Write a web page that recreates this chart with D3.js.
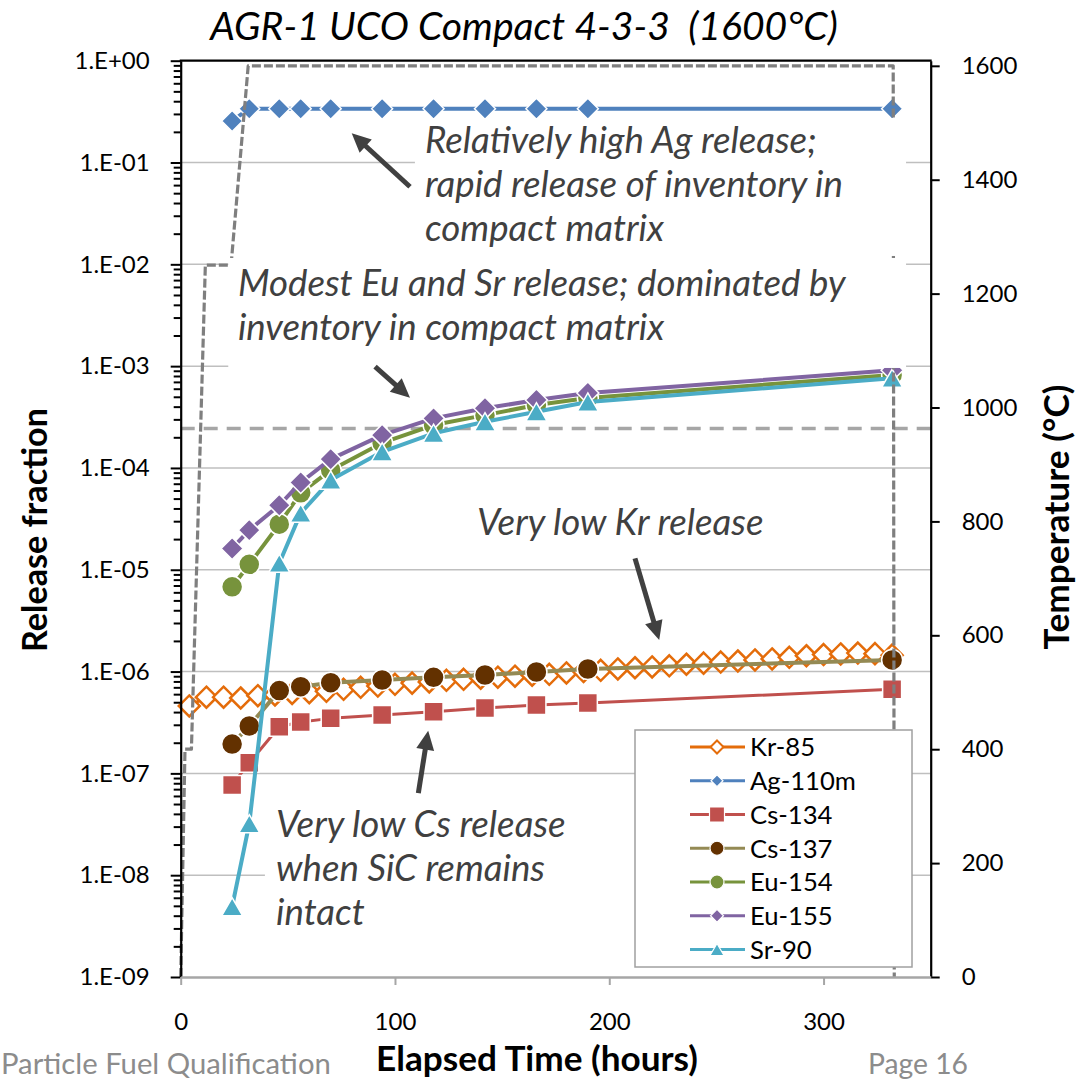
<!DOCTYPE html>
<html>
<head>
<meta charset="utf-8">
<title>AGR-1 UCO Compact 4-3-3 (1600°C)</title>
<script src="https://d3js.org/d3.v7.min.js"></script>
<style>
  body { margin: 0; background: #fff; }
  svg text { font-family: Lato, "Open Sans", sans-serif; }
</style>
</head>
<body>
<svg id="chart" width="1088" height="1082"></svg>
<script>
// measurement times (hours) shared by the gamma-counted isotopes
const hours = [24, 32, 46, 56, 70, 94, 118, 142, 166, 190, 332];
const ag110m = [0.256, 0.338, 0.338, 0.338, 0.338, 0.338, 0.338, 0.338, 0.338, 0.338, 0.338];
const cs134 = [7.7e-8, 1.27e-7, 2.87e-7, 3.2e-7, 3.47e-7, 3.74e-7, 4.03e-7, 4.38e-7, 4.7e-7, 4.9e-7, 6.7e-7];
const cs137 = [1.94e-7, 2.92e-7, 6.5e-7, 7.1e-7, 7.77e-7, 8.26e-7, 8.78e-7, 9.25e-7, 9.9e-7, 1.06e-6, 1.3e-6];
const eu154 = [6.8e-6, 1.13e-5, 2.8e-5, 5.7e-5, 9.5e-5, 1.76e-4, 2.64e-4, 3.3e-4, 4.15e-4, 4.86e-4, 8.2e-4];
const eu155 = [1.62e-5, 2.45e-5, 4.3e-5, 7.2e-5, 1.22e-4, 2.1e-4, 3.07e-4, 3.85e-4, 4.65e-4, 5.44e-4, 9.1e-4];
const sr90 = [4.9e-9, 3.2e-8, 1.16e-5, 3.6e-5, 7.6e-5, 1.44e-4, 2.19e-4, 2.84e-4, 3.56e-4, 4.44e-4, 7.6e-4];

// Kr-85 is measured much more often
const krHours = [4, 12, 20, 28, 36, 44, 52, 60, 68, 76, 84, 92, 100, 108, 116, 124, 132, 140, 148, 156, 164,
  172, 180, 188, 196, 204, 212, 220, 228, 236, 244, 252, 260, 268, 276, 284, 292, 300, 308, 316, 324, 332];
const kr85 = [4.6e-7, 5.6e-7, 5.6e-7, 5.5e-7, 5.8e-7, 5.9e-7, 6.1e-7, 6.2e-7, 6.4e-7, 6.7e-7, 7.0e-7,
  7.2e-7, 7.5e-7, 7.7e-7, 7.9e-7, 8.2e-7, 8.4e-7, 8.6e-7, 8.8e-7, 9.0e-7, 9.2e-7, 9.4e-7, 9.7e-7,
  1.0e-6, 1.03e-6, 1.06e-6, 1.09e-6, 1.11e-6, 1.14e-6, 1.18e-6, 1.21e-6, 1.24e-6, 1.27e-6, 1.3e-6,
  1.33e-6, 1.38e-6, 1.43e-6, 1.47e-6, 1.49e-6, 1.52e-6, 1.5e-6, 1.45e-6];

// furnace temperature (right axis)
const tempHours = [0, 2, 5, 11.5, 23.5, 31.5, 332.5, 333];
const tempValues = [0, 400, 400, 1250, 1250, 1600, 1600, 0];

// one-particle equivalent release
const oneParticle = 2.44e-4;

const yTicks = [1e-9, 1e-8, 1e-7, 1e-6, 1e-5, 1e-4, 1e-3, 1e-2, 1e-1, 1];
const tempTicks = [0, 200, 400, 600, 800, 1000, 1200, 1400, 1600];
const xTicks = [0, 100, 200, 300];

const svg = d3.select("#chart");
const L = 180.7, R = 930.7, T = 60.7, B = 977;

const x = d3.scaleLinear().domain([0, 350]).range([L, R]);
const y = d3.scaleLog().domain([1e-9, 1]).range([B, T]);
const yT = d3.scaleLinear().domain([0, 1609]).range([B, T]);

const fmt = d => {
  const e = Math.round(Math.log10(d));
  return "1.E" + (e < 0 ? "-" : "+") + String(Math.abs(e)).padStart(2, "0");
};

function fit(sel, width) {
  const w = sel.node().getComputedTextLength();
  const fs = parseFloat(sel.attr("font-size"));
  const nfs = fs * width / w;
  sel.attr("font-size", nfs);
  return nfs;
}

// gridlines
svg.append("g").selectAll("line").data(yTicks.slice(1, -1)).join("line")
  .attr("x1", L).attr("x2", R).attr("y1", d => y(d)).attr("y2", d => y(d))
  .attr("stroke", "#BFBFBF").attr("stroke-width", 1.5);

// one particle reference line
svg.append("line").attr("x1", L).attr("x2", R)
  .attr("y1", y(oneParticle)).attr("y2", y(oneParticle))
  .attr("stroke", "#A6A6A6").attr("stroke-width", 3.5).attr("stroke-dasharray", "14,9");

// marker shapes
const shapes = {
  diamond: r => `M0,${-r}L${r},0L0,${r}L${-r},0Z`,
  square: r => `M${-r},${-r}h${2 * r}v${2 * r}h${-2 * r}Z`,
  circle: r => `M${r},0A${r},${r} 0 1,1 ${-r},0A${r},${r} 0 1,1 ${r},0Z`,
  triangle: r => { const h = r * 0.866; return `M0,${-h}L${r},${h}L${-r},${h}Z`; }
};

const series = [
  { name: "Kr-85", h: krHours, v: kr85, line: "#E46C0A", fill: "#fff", stroke: "#E46C0A", sw: 2.5, shape: "diamond", r: 10.5, lr: 6.5, lw: 3 },
  { name: "Ag-110m", h: hours, v: ag110m, line: "#4F81BD", fill: "#4F81BD", stroke: "#fff", sw: 1.5, shape: "diamond", r: 10.5, lr: 6, lw: 4 },
  { name: "Cs-134", h: hours, v: cs134, line: "#C0504D", fill: "#C0504D", stroke: "#fff", sw: 1.5, shape: "square", r: 9.5, lr: 7.5, lw: 3 },
  { name: "Cs-137", h: hours, v: cs137, line: "#948A54", fill: "#633100", stroke: "#fff", sw: 1.5, shape: "circle", r: 10.5, lr: 7, lw: 4 },
  { name: "Eu-154", h: hours, v: eu154, line: "#77933C", fill: "#77933C", stroke: "#fff", sw: 1.5, shape: "circle", r: 10.5, lr: 7, lw: 4 },
  { name: "Eu-155", h: hours, v: eu155, line: "#8064A2", fill: "#8064A2", stroke: "#fff", sw: 1.5, shape: "diamond", r: 11, lr: 6.5, lw: 4 },
  { name: "Sr-90", h: hours, v: sr90, line: "#4BACC6", fill: "#4BACC6", stroke: "#fff", sw: 1.5, shape: "triangle", r: 10.5, lr: 7, lw: 4 }
];

const lineGen = d3.line().x(d => x(d[0])).y(d => y(d[1]));

series.forEach(s => {
  const pts = s.h.map((h, i) => [h, s.v[i]]);
  const g = svg.append("g");
  g.append("path").attr("d", lineGen(pts)).attr("fill", "none")
    .attr("stroke", s.line).attr("stroke-width", s.lw).attr("stroke-linejoin", "round");
  g.selectAll("path.m").data(pts).join("path").attr("class", "m")
    .attr("transform", d => `translate(${x(d[0])},${y(d[1])})`)
    .attr("d", shapes[s.shape](s.r))
    .attr("fill", s.fill).attr("stroke", s.stroke).attr("stroke-width", s.sw);
});

// temperature trace (secondary axis)
const tempLine = d3.line().x(d => x(d[0])).y(d => yT(d[1]));
svg.append("path").attr("d", tempLine(tempHours.map((h, i) => [h, tempValues[i]])))
  .attr("fill", "none").attr("stroke", "#7F7F7F").attr("stroke-width", 3.2)
  .attr("stroke-dasharray", "9,3").attr("stroke-linejoin", "round");

// axes
const minor = [];
for (let e = -9; e < 0; e++) for (let k = 2; k <= 9; k++) minor.push(k * Math.pow(10, e));

const gl = svg.append("g").attr("transform", `translate(${L},0)`)
  .call(d3.axisLeft(y).tickValues(yTicks).tickFormat(fmt).tickSize(10).tickSizeOuter(0).tickPadding(21));
const glm = svg.append("g").attr("transform", `translate(${L},0)`)
  .call(d3.axisLeft(y).tickValues(minor).tickFormat("").tickSize(7).tickSizeOuter(0));
glm.select(".domain").remove();
const gr = svg.append("g").attr("transform", `translate(${R},0)`)
  .call(d3.axisRight(yT).tickValues(tempTicks).tickFormat(d3.format("d"))
    .tickSize(9).tickSizeOuter(0).tickPadding(22));
const gb = svg.append("g").attr("transform", `translate(0,${B})`)
  .call(d3.axisBottom(x).tickValues(xTicks).tickFormat(d3.format("d"))
    .tickSize(8).tickSizeOuter(0).tickPadding(28));

[gl, glm, gr].forEach(g => {
  g.selectAll("line").attr("stroke", "#000").attr("stroke-width", 2);
  g.select(".domain").attr("stroke", "#000").attr("stroke-width", 2.2);
});
gb.selectAll("line").attr("stroke", "#A6A6A6").attr("stroke-width", 2);
gb.select(".domain").attr("stroke", "#A6A6A6").attr("stroke-width", 2.5);
[gl, gr, gb].forEach(g => g.selectAll("text").attr("font-size", 24).attr("fill", "#000")
  .style("font-family", "Lato, sans-serif"));

// top border
svg.append("line").attr("x1", L - 1).attr("x2", R + 1).attr("y1", T).attr("y2", T)
  .attr("stroke", "#000").attr("stroke-width", 2.2);

// annotations: white text boxes, text, arrows (positions in data units)
const annBoxes = [
  { h0: 109.3, h1: 338.5, v0: 10 ** -0.563, v1: 10 ** -1.918 },
  { h0: 22.2, h1: 338.5, v0: 10 ** -1.938, v1: 10 ** -3.018 },
  { h0: 135, h1: 275, v0: 10 ** -4.364, v1: 10 ** -4.806 },
  { h0: 39.3, h1: 214.3, v0: 10 ** -7.265, v1: 10 ** -8.64 }
];
svg.append("g").selectAll("rect").data(annBoxes).join("rect")
  .attr("x", d => x(d.h0)).attr("y", d => y(d.v0))
  .attr("width", d => x(d.h1) - x(d.h0)).attr("height", d => y(d.v1) - y(d.v0))
  .attr("fill", "#fff");

const annText = [
  { h: 114.0, lg: -0.906, t: "Relatively high Ag release;" },
  { h: 114.0, lg: -1.339, t: "rapid release of inventory in" },
  { h: 114.0, lg: -1.771, t: "compact matrix" },
  { h: 26.7, lg: -2.311, t: "Modest Eu and Sr release; dominated by" },
  { h: 26.7, lg: -2.743, t: "inventory in compact matrix" },
  { h: 138.3, lg: -4.659, t: "Very low Kr release" },
  { h: 44.5, lg: -7.625, t: "Very low Cs release" },
  { h: 44.5, lg: -8.057, t: "when SiC remains" },
  { h: 44.5, lg: -8.489, t: "intact" }
];
const at = svg.append("g").selectAll("text").data(annText).join("text")
  .attr("x", d => x(d.h)).attr("y", d => y(10 ** d.lg))
  .attr("font-size", 30).attr("font-style", "italic").attr("fill", "#404040")
  .text(d => d.t);
const annFs = fit(at.filter((d, i) => i === 3), 608);
at.attr("font-size", annFs);

const arrows = [
  { h0: 107.0, v0: 10 ** -1.238, h1: 79.8, v1: 10 ** -0.713 },
  { h0: 90.7, v0: 10 ** -3.006, h1: 107.0, v1: 10 ** -3.31 },
  { h0: 212.0, v0: 10 ** -4.888, h1: 223.3, v1: 10 ** -5.69 },
  { h0: 110.9, v0: 10 ** -7.193, h1: 115.5, v1: 10 ** -6.581 }
];
const ag = svg.append("g");
arrows.forEach(a => {
  const x0 = x(a.h0), y0 = y(a.v0), x1 = x(a.h1), y1 = y(a.v1);
  const dx = x1 - x0, dy = y1 - y0, len = Math.hypot(dx, dy);
  const ux = dx / len, uy = dy / len, head = 19, hw = 9;
  const bx = x1 - ux * head, by = y1 - uy * head;
  ag.append("line").attr("x1", x0).attr("y1", y0).attr("x2", bx + ux * 2).attr("y2", by + uy * 2)
    .attr("stroke", "#404040").attr("stroke-width", 5);
  ag.append("path")
    .attr("d", `M${x1},${y1}L${bx - uy * hw},${by + ux * hw}L${bx + uy * hw},${by - ux * hw}Z`)
    .attr("fill", "#404040");
});

// legend
const lg = svg.append("g");
lg.append("rect").attr("x", 635).attr("y", 730).attr("width", 277).attr("height", 237)
  .attr("fill", "#fff").attr("stroke", "#A0A0A0").attr("stroke-width", 1.5);
const rows = lg.selectAll("g.row").data(series).join("g").attr("class", "row")
  .attr("transform", (d, i) => `translate(0,${747 + i * 33.75})`);
rows.append("line").attr("x1", 690).attr("x2", 745).attr("y1", 0).attr("y2", 0)
  .attr("stroke", d => d.line).attr("stroke-width", 3);
rows.append("path").attr("transform", "translate(717,0)")
  .attr("d", d => shapes[d.shape](d.lr))
  .attr("fill", d => d.fill).attr("stroke", d => d.stroke).attr("stroke-width", d => d.sw === 2.5 ? 2 : 1.2);
const lt = rows.append("text").attr("x", 750).attr("y", 0).attr("dy", "0.36em")
  .attr("font-size", 26).attr("fill", "#000").text(d => d.name);
const lfs = fit(lt.filter((d, i) => i === 1), 106);
lt.attr("font-size", lfs);

// titles
const title = svg.append("text").attr("x", 524).attr("y", 40).attr("text-anchor", "middle")
  .attr("font-size", 34).attr("font-style", "italic").style("white-space", "pre")
  .text("AGR-1 UCO Compact 4-3-3  (1600°C)");
fit(title, 628);

const ylab = svg.append("text").attr("transform", "translate(47,530) rotate(-90)")
  .attr("text-anchor", "middle").attr("font-weight", "bold").attr("font-size", 28)
  .text("Release fraction");
fit(ylab, 244);

const y2lab = svg.append("text").attr("transform", "translate(1069,517) rotate(-90)")
  .attr("text-anchor", "middle").attr("font-weight", "bold").attr("font-size", 28)
  .text("Temperature (°C)");
fit(y2lab, 265);

const xlab = svg.append("text").attr("x", 537).attr("y", 1071).attr("text-anchor", "middle")
  .attr("font-weight", "bold").attr("font-size", 28).text("Elapsed Time (hours)");
fit(xlab, 322);

const f1 = svg.append("text").attr("x", 1).attr("y", 1074).attr("font-size", 26)
  .attr("fill", "#8C8C8C").text("Particle Fuel Qualification");
fit(f1, 330);
const f2 = svg.append("text").attr("x", 868).attr("y", 1074).attr("font-size", 26)
  .attr("fill", "#8C8C8C").text("Page 16");
fit(f2, 100);
</script>
</body>
</html>
